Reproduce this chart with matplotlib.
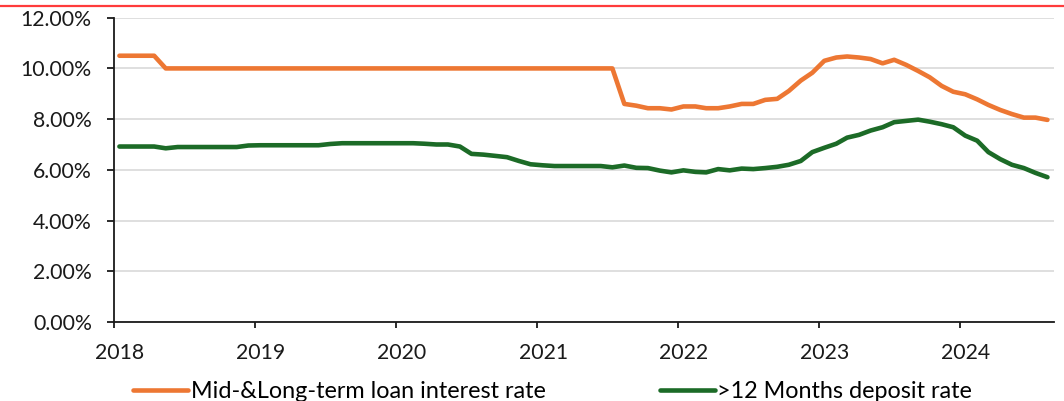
import numpy as np
import pandas as pd
import matplotlib
matplotlib.use("Agg")
import matplotlib.pyplot as plt
import matplotlib.dates as mdates
import matplotlib.transforms as mtransforms
from matplotlib.lines import Line2D

plt.rcParams["font.family"] = ["Lato", "DejaVu Sans"]

# monthly observations, Jan 2018 .. Aug 2024 (plotted mid-month)
months = pd.date_range("2018-01-01", "2024-08-01", freq="MS") + pd.Timedelta(days=14)

loan_rate = [
    10.5, 10.5, 10.5, 10.5, 10.0, 10.0, 10.0, 10.0, 10.0, 10.0, 10.0, 10.0,   # 2018
    10.0, 10.0, 10.0, 10.0, 10.0, 10.0, 10.0, 10.0, 10.0, 10.0, 10.0, 10.0,   # 2019
    10.0, 10.0, 10.0, 10.0, 10.0, 10.0, 10.0, 10.0, 10.0, 10.0, 10.0, 10.0,   # 2020
    10.0, 10.0, 10.0, 10.0, 10.0, 10.0, 10.0, 8.60, 8.53, 8.43, 8.43, 8.38,   # 2021
    8.50, 8.50, 8.43, 8.43, 8.50, 8.60, 8.60, 8.76, 8.80, 9.11, 9.52, 9.83,   # 2022
    10.30, 10.43, 10.47, 10.43, 10.37, 10.20, 10.34, 10.14, 9.90, 9.65, 9.31, 9.08,  # 2023
    8.98, 8.78, 8.56, 8.36, 8.20, 8.06, 8.06, 7.97,                           # 2024
]
deposit_rate = [
    6.92, 6.92, 6.92, 6.92, 6.85, 6.90, 6.90, 6.90, 6.90, 6.90, 6.90, 6.96,   # 2018
    6.97, 6.97, 6.97, 6.97, 6.97, 6.97, 7.02, 7.05, 7.05, 7.05, 7.05, 7.05,   # 2019
    7.05, 7.05, 7.03, 7.00, 7.00, 6.92, 6.63, 6.60, 6.55, 6.50, 6.35, 6.22,   # 2020
    6.18, 6.15, 6.15, 6.15, 6.15, 6.15, 6.10, 6.17, 6.08, 6.07, 5.97, 5.90,   # 2021
    5.98, 5.92, 5.90, 6.03, 5.98, 6.05, 6.03, 6.07, 6.12, 6.20, 6.35, 6.70,   # 2022
    6.87, 7.03, 7.27, 7.38, 7.55, 7.68, 7.88, 7.93, 7.98, 7.90, 7.80, 7.68,   # 2023
    7.35, 7.15, 6.70, 6.42, 6.20, 6.07, 5.88, 5.71,                           # 2024
]
labels = ["Mid-&Long-term loan interest rate", ">12 Months deposit rate"]
colors = ["#ED7733", "#1C6B27"]
yticks = [0, 2, 4, 6, 8, 10, 12]

fig = plt.figure(figsize=(10.64, 4.01), dpi=100)
ax = fig.add_axes([114 / 1064, 1 - 322 / 401, 940 / 1064, 304.3 / 401])

h1, = ax.plot(months, loan_rate, color=colors[0], lw=3.3, solid_capstyle="round", solid_joinstyle="round", zorder=3)
h2, = ax.plot(months, deposit_rate, color=colors[1], lw=3.3, solid_capstyle="round", solid_joinstyle="round", zorder=3)

ax.set_ylim(0, 12)
ax.set_yticks(yticks)
ax.set_yticklabels([f"{v:.2f}%" for v in yticks])
ax.set_xlim(pd.Timestamp("2018-01-01"), pd.Timestamp("2024-09-01"))
ax.xaxis.set_major_locator(mdates.YearLocator())
ax.xaxis.set_major_formatter(mdates.DateFormatter("%Y"))

ax.grid(axis="y", color="#d9d9d9", lw=1.2, zorder=0)
ax.set_axisbelow(True)
for s in ("top", "right"):
    ax.spines[s].set_visible(False)
for s in ("left", "bottom"):
    ax.spines[s].set_linewidth(1.3)
    ax.spines[s].set_color("#1a1a1a")

ax.tick_params(axis="y", length=5, width=1.3, pad=11, labelsize=15.3, colors="#1a1a1a")
ax.tick_params(axis="x", length=4, width=1.3, pad=11, labelsize=15.3, colors="#1a1a1a")
shift = mtransforms.ScaledTranslation(6 / 100, 0, fig.dpi_scale_trans)
for lab in ax.get_xticklabels():
    lab.set_transform(lab.get_transform() + shift)

fig.legend([h1, h2], labels, loc="center left", bbox_to_anchor=(133 / 1064, 1 - 392 / 401),
           ncol=2, frameon=False, fontsize=16.8, handlelength=2.35, handletextpad=0.12,
           columnspacing=4.9, borderpad=0, borderaxespad=0)

# red rule across the top of the figure
fig.add_artist(Line2D([0, 1], [1 - 5.5 / 401, 1 - 5.5 / 401], transform=fig.transFigure,
                      color="#FF3B3B", lw=1.6))

fig.savefig("out.png", dpi=100)
